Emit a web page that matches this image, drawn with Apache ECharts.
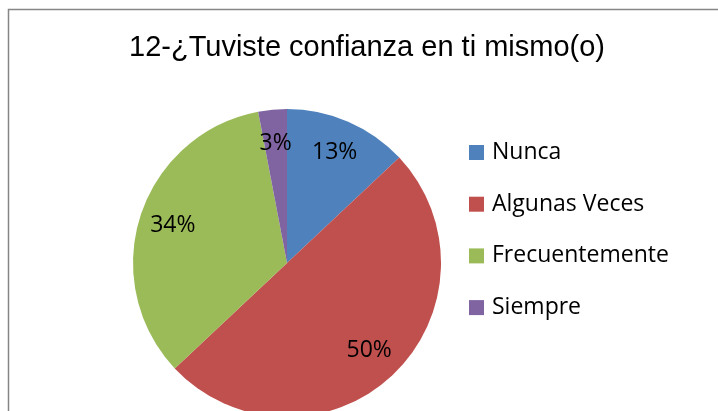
<!DOCTYPE html>
<html>
<head>
<meta charset="utf-8">
<script src="https://cdn.jsdelivr.net/npm/echarts@6/dist/echarts.min.js"></script>
<style>html,body{margin:0;padding:0;background:#fff;}#c{width:718px;height:411px;}</style>
</head>
<body>
<div id="c"></div>
<script>
const titleText = '12-¿Tuviste confianza en ti mismo(o)';
const categories = ['Nunca', 'Algunas Veces', 'Frecuentemente', 'Siempre'];
const values = [13, 50, 34, 3];
const colors = ['#4F81BD', '#C0504D', '#9BBB59', '#8064A2'];

const chart = echarts.init(document.getElementById('c'), null, {renderer: 'canvas'});
const pieData = categories.map((n, i) => ({name: n, value: values[i], itemStyle: {color: colors[i]}}));
const labelData = categories.map((n, i) => ({name: n, value: values[i]}));

chart.setOption({
  backgroundColor: '#fff',
  animation: false,
  title: {
    text: titleText,
    left: 367, top: 33, textAlign: 'center', padding: 0,
    textStyle: {fontFamily: 'Liberation Sans', fontSize: 29, fontWeight: 'normal', color: '#000'}
  },
  legend: {
    orient: 'vertical',
    left: 469, top: 141,
    padding: 0,
    itemWidth: 15, itemHeight: 15,
    itemGap: 28.7,
    icon: 'rect',
    data: categories,
    textStyle: {fontFamily: 'Open Sans', fontSize: 23, lineHeight: 23, color: '#000', padding: [0, 0, 0, 3]}
  },
  graphic: [{
    type: 'rect', silent: true, z: -1,
    shape: {x: 8.5, y: 9.5, width: 800, height: 500},
    style: {fill: 'none', stroke: '#868686', lineWidth: 1.5}
  }],
  series: [{
    type: 'pie',
    center: [287, 263],
    radius: [0, 154],
    startAngle: 90,
    clockwise: true,
    label: {show: false},
    labelLine: {show: false},
    emphasis: {disabled: true},
    data: pieData
  }, {
    type: 'pie',
    center: [287, 263],
    radius: [80, 154],
    startAngle: 90,
    clockwise: true,
    silent: true,
    itemStyle: {color: 'rgba(0,0,0,0)'},
    label: {show: true, position: 'inside', formatter: '{c}%', fontFamily: 'Open Sans', fontSize: 23, color: '#000'},
    labelLine: {show: false},
    emphasis: {disabled: true},
    data: labelData
  }]
});
</script>
</body>
</html>
